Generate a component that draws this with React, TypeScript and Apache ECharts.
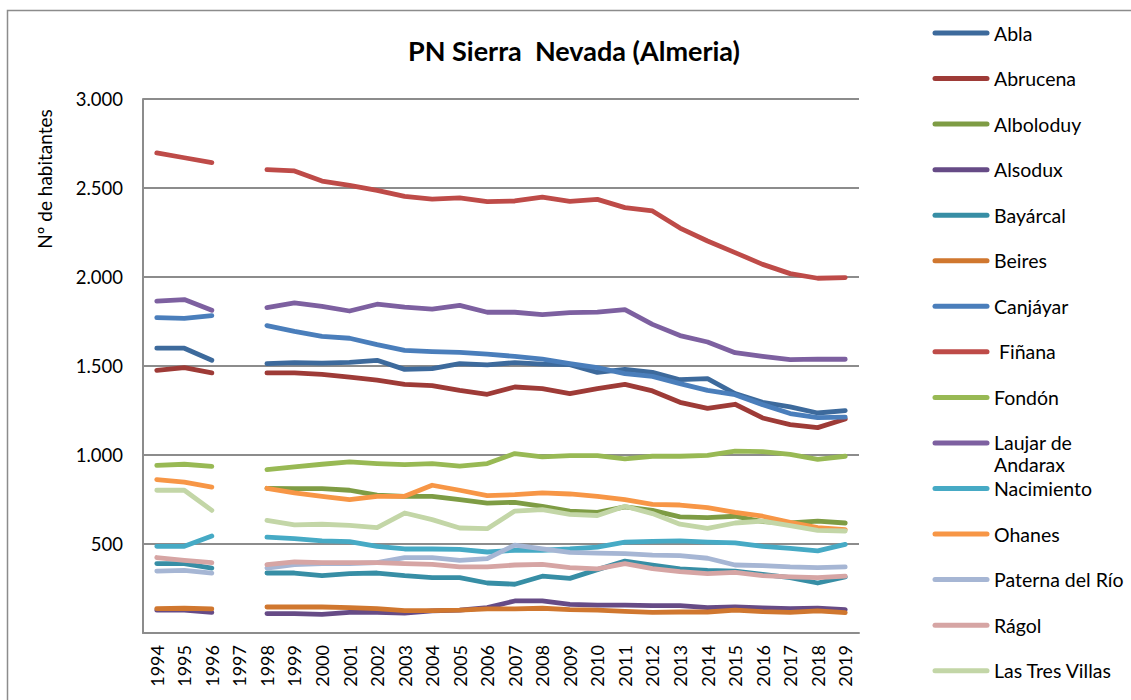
import React, { useEffect, useRef } from "react";
import * as echarts from "echarts";

// Years on the category axis (1997 has no data)
const years = [
  "1994", "1995", "1996", "1997", "1998", "1999", "2000", "2001", "2002", "2003", "2004", "2005", "2006",
  "2007", "2008", "2009", "2010", "2011", "2012", "2013", "2014", "2015", "2016", "2017", "2018", "2019",
];

const yTicks = [0, 500, 1000, 1500, 2000, 2500, 3000];

// Population per municipality
const abla = [1600, 1600, 1532, null, 1513, 1519, 1516, 1520, 1532, 1481, 1485, 1513, 1506, 1519, 1511, 1508, 1464, 1481, 1464, 1423, 1429, 1345, 1296, 1270, 1236, 1249];
const abrucena = [1476, 1491, 1461, null, 1461, 1461, 1453, 1438, 1420, 1397, 1390, 1363, 1341, 1382, 1373, 1345, 1373, 1397, 1360, 1296, 1262, 1285, 1208, 1171, 1154, 1202];
const alboloduy = [null, null, null, null, 813, 811, 811, 802, 774, 768, 768, 749, 730, 734, 712, 685, 678, 708, 689, 652, 648, 656, 626, 618, 629, 618];
const alsodux = [128, 128, 116, null, 109, 109, 105, 116, 116, 112, 124, 128, 143, 180, 180, 161, 157, 157, 154, 154, 143, 146, 141, 137, 139, 131];
const bayarcal = [390, 390, 365, null, 337, 337, 322, 334, 337, 322, 311, 311, 281, 274, 319, 307, 356, 404, 382, 360, 352, 348, 330, 311, 281, 315];
const beires = [137, 139, 135, null, 146, 146, 146, 143, 137, 126, 126, 128, 135, 135, 139, 131, 128, 122, 116, 118, 118, 128, 120, 116, 124, 115];
const canjayar = [1772, 1768, 1783, null, 1727, 1695, 1667, 1656, 1620, 1588, 1581, 1577, 1567, 1554, 1538, 1513, 1491, 1457, 1442, 1401, 1363, 1339, 1283, 1233, 1210, 1213];
const finana = [2697, 2670, 2643, null, 2603, 2596, 2539, 2515, 2487, 2453, 2437, 2444, 2424, 2427, 2449, 2425, 2436, 2390, 2371, 2275, 2202, 2137, 2071, 2019, 1993, 1997];
const fondon = [942, 948, 936, null, 918, 933, 948, 961, 952, 946, 952, 938, 952, 1008, 989, 997, 997, 978, 993, 993, 998, 1022, 1019, 1004, 976, 993];
const laujar = [1865, 1873, 1813, null, 1828, 1854, 1835, 1809, 1847, 1831, 1820, 1841, 1802, 1802, 1789, 1800, 1803, 1817, 1734, 1671, 1635, 1575, 1554, 1536, 1539, 1538];
const nacimiento = [487, 487, 545, null, 539, 530, 517, 513, 487, 472, 472, 470, 455, 465, 465, 472, 483, 510, 515, 517, 510, 506, 487, 476, 461, 498];
const ohanes = [862, 848, 820, null, 813, 787, 768, 749, 768, 768, 830, 802, 772, 777, 787, 781, 768, 749, 723, 719, 704, 678, 656, 622, 592, 581];
const paterna = [348, 352, 337, null, 365, 384, 390, 390, 395, 424, 424, 408, 418, 494, 472, 453, 449, 446, 438, 435, 420, 382, 379, 371, 367, 371];
const ragol = [424, 408, 395, null, 384, 399, 395, 395, 395, 390, 386, 371, 371, 382, 386, 367, 360, 390, 362, 345, 334, 341, 322, 315, 311, 319];
const tresVillas = [802, 802, 689, null, 633, 607, 611, 605, 592, 674, 637, 590, 586, 685, 693, 667, 660, 712, 671, 611, 588, 618, 629, 603, 577, 573];

const seriesNames = [
  "Abla", "Abrucena", "Alboloduy", "Alsodux", "Bayárcal", "Beires", "Canjáyar", " Fiñana",
  "Fondón", "Laujar de Andarax", "Nacimiento", "Ohanes", "Paterna del Río", "Rágol", "Las Tres Villas",
];
const seriesData = [
  abla, abrucena, alboloduy, alsodux, bayarcal, beires, canjayar, finana,
  fondon, laujar, nacimiento, ohanes, paterna, ragol, tresVillas,
];
const seriesColors = [
  "#3D6A9C", "#9E3B37", "#7E9C44", "#664B86", "#378EA5", "#D0772F", "#4A7EBB", "#BE4B48",
  "#98B954", "#7D60A0", "#46AAC5", "#F79646", "#A6B6D4", "#D6A5A4", "#C3D6A7",
];

const FONT = "Lato, 'Open Sans', sans-serif";

function formatThousands(v: number): string {
  return String(v).replace(/\B(?=(\d{3})+(?!\d))/g, ".");
}

export default function App() {
  const ref = useRef<HTMLDivElement>(null);

  useEffect(() => {
    if (!ref.current) return;
    const chart = echarts.init(ref.current, undefined, { renderer: "svg" });

    // Legend drawn on the right: a short line and a label per municipality
    const legendEls: any[] = [];
    seriesNames.forEach((name, i) => {
      const y = 33 + 45.55 * i;
      legendEls.push({
        type: "line",
        shape: { x1: 935, y1: y, x2: 987, y2: y },
        style: { stroke: seriesColors[i], lineWidth: 5, lineCap: "round" },
      });
      const label = name === "Laujar de Andarax" ? "Laujar de\nAndarax" : name;
      legendEls.push({
        type: "text",
        x: 994,
        y: y - 11,
        style: {
          text: label,
          font: `19.5px ${FONT}`,
          fill: "#000",
          lineHeight: 22,
          textVerticalAlign: "top",
        },
      });
    });

    chart.setOption({
      animation: false,
      backgroundColor: "#fff",
      grid: { left: 143, top: 99, right: 272, bottom: 67, containLabel: false },
      xAxis: {
        type: "category",
        data: years,
        boundaryGap: true,
        axisLine: { show: true, lineStyle: { color: "#8c8c8c", width: 2 } },
        axisTick: { show: false },
        axisLabel: {
          rotate: 90,
          margin: 12,
          interval: 0,
          color: "#000",
          fontSize: 18,
          fontFamily: FONT,
        },
      },
      yAxis: {
        type: "value",
        min: yTicks[0],
        max: yTicks[yTicks.length - 1],
        interval: 500,
        axisLine: { show: true, lineStyle: { color: "#8c8c8c", width: 2 } },
        axisTick: { show: false },
        splitLine: { show: true, lineStyle: { color: "#8c8c8c", width: 2 } },
        axisLabel: {
          showMinLabel: false,
          margin: 20,
          color: "#000",
          fontSize: 18.5,
          fontFamily: FONT,
          formatter: (v: number) => formatThousands(v),
        },
      },
      series: seriesNames.map((name, i) => ({
        name,
        type: "line",
        data: seriesData[i],
        connectNulls: false,
        symbol: "none",
        color: seriesColors[i],
        lineStyle: { width: 4.8, color: seriesColors[i], cap: "round", join: "round" },
      })),
      graphic: [
        {
          type: "rect",
          shape: { x: 7.5, y: 10.5, width: 1200, height: 800 },
          style: { fill: "none", stroke: "#8c8c8c", lineWidth: 1.5 },
          silent: true,
        },
        {
          type: "text",
          x: 574,
          y: 50,
          style: {
            text: "PN Sierra  Nevada (Almeria)",
            font: `bold 27px ${FONT}`,
            fill: "#000",
            textAlign: "center",
            textVerticalAlign: "middle",
          },
        },
        {
          type: "text",
          x: 44,
          y: 179,
          rotation: Math.PI / 2,
          style: {
            text: "Nº de habitantes",
            font: `19px ${FONT}`,
            fill: "#000",
            textAlign: "center",
            textVerticalAlign: "middle",
          },
        },
        ...legendEls,
      ],
    });

    return () => chart.dispose();
  }, []);

  return (
    <div
      ref={ref}
      style={{ position: "fixed", left: 0, top: 0, width: 1131, height: 700, background: "#fff" }}
    />
  );
}
